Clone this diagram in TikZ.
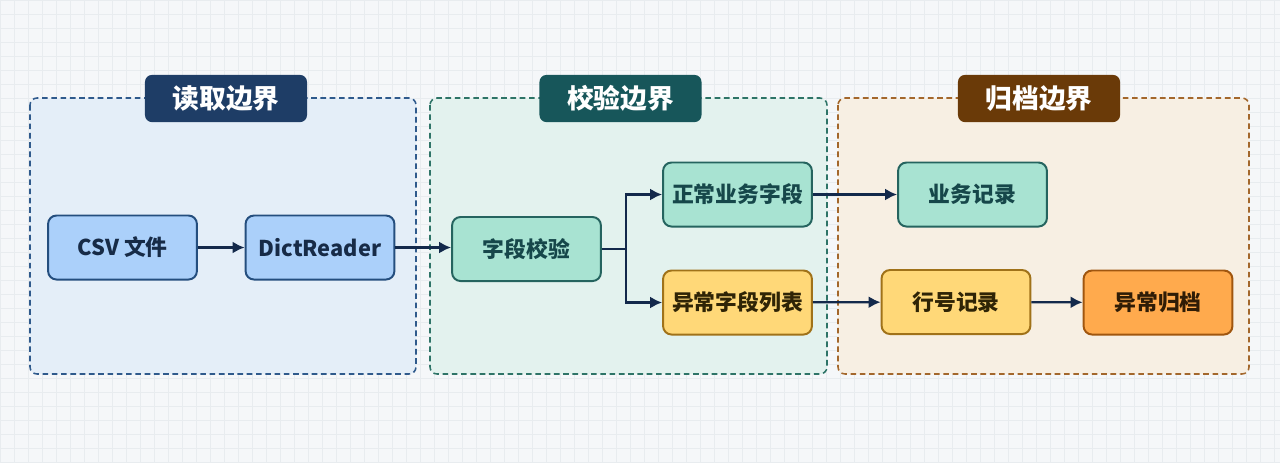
\documentclass[tikz,border=0pt]{standalone}
\usepackage{fontspec}
\newfontfamily\cjk{Noto Sans CJK SC}
\usepackage{tikz}
\usetikzlibrary{arrows.meta}
\definecolor{bgcol}{HTML}{F5F7F9}
\definecolor{gridcol}{HTML}{E8ECEF}
\definecolor{arrcol}{HTML}{13294B}
\definecolor{readfill}{HTML}{E4EEF8}
\definecolor{readline}{HTML}{2F5A8C}
\definecolor{readtitle}{HTML}{1E3D66}
\definecolor{chkfill}{HTML}{E3F2EE}
\definecolor{chkline}{HTML}{2E7467}
\definecolor{chktitle}{HTML}{17565A}
\definecolor{arcfill}{HTML}{F7EFE3}
\definecolor{arcline}{HTML}{A3672C}
\definecolor{arctitle}{HTML}{6A3A08}
\definecolor{bluebox}{HTML}{ABD0FA}
\definecolor{blueedge}{HTML}{244E7E}
\definecolor{bluetext}{HTML}{172B47}
\definecolor{tealbox}{HTML}{A8E3D2}
\definecolor{tealedge}{HTML}{25645F}
\definecolor{tealtext}{HTML}{16474A}
\definecolor{yelbox}{HTML}{FFD878}
\definecolor{yeledge}{HTML}{A07219}
\definecolor{yeltext}{HTML}{2F2406}
\definecolor{orabox}{HTML}{FFAA4D}
\definecolor{oraedge}{HTML}{A0560F}
\definecolor{oratext}{HTML}{2F1C06}

\begin{document}
\begin{tikzpicture}[x=0.025cm,y=-0.025cm,
  region/.style={line width=1.1pt,dash pattern=on 4pt off 2.6pt,rounded corners=5pt},
  title/.style={rounded corners=5pt,minimum width=4.05cm,minimum height=1.18cm,text=white,font=\cjk\bfseries\fontsize{19}{22}\selectfont},
  box/.style={rounded corners=6pt,line width=1.4pt,minimum width=3.72cm,minimum height=1.6cm,font=\cjk\bfseries\fontsize{15.5}{18}\selectfont},
  link/.style={-{Latex[length=8.5pt,width=8.5pt]},line width=1.6pt,draw=arrcol}]
\useasboundingbox (0,0) rectangle (1280,463);
\fill[bgcol] (0,0) rectangle (1280,463);
\foreach \X in {0,14,...,1280}
{\draw[gridcol,line width=0.4pt] (\X,0) -- (\X,463);}
\foreach \Y in {0,14,...,463}
{\draw[gridcol,line width=0.4pt] (0,\Y) -- (1280,\Y);}

% the three boundaries
\filldraw[region,fill=readfill,draw=readline] (30,98) rectangle (416,374);
\filldraw[region,fill=chkfill,draw=chkline] (430,98) rectangle (827,374);
\filldraw[region,fill=arcfill,draw=arcline] (838,98) rectangle (1249,374);
\node[title,fill=readtitle] (readhd) at (226,98.5) {读取边界};
\node[title,fill=chktitle] (chkhd) at (620.5,98.5) {校验边界};
\node[title,fill=arctitle] (archd) at (1039,98.5) {归档边界};

% nodes
\node[box,fill=bluebox,draw=blueedge,text=bluetext] (csv) at (122.5,247.5) {CSV 文件};
\node[box,fill=bluebox,draw=blueedge,text=bluetext] (reader) at (320,247.5) {DictReader};
\node[box,fill=tealbox,draw=tealedge,text=tealtext] (check) at (526.5,249) {字段校验};
\node[box,fill=tealbox,draw=tealedge,text=tealtext] (normal) at (737.5,194.5) {正常业务字段};
\node[box,fill=yelbox,draw=yeledge,text=yeltext] (bad) at (737.5,302.5) {异常字段列表};
\node[box,fill=tealbox,draw=tealedge,text=tealtext] (bizrec) at (972.5,194.5) {业务记录};
\node[box,fill=yelbox,draw=yeledge,text=yeltext] (linerec) at (956,302) {行号记录};
\node[box,fill=orabox,draw=oraedge,text=oratext] (badarc) at (1158,302.5) {异常归档};
\coordinate (split) at (626,249);

% connectors
\draw[link] (csv) -- (reader);
\draw[link] (reader.east) -- (reader.east -| check.west);
\draw[line width=1.6pt,draw=arrcol] (check.east) -- (split);
\draw[link] (split) |- (normal.west);
\draw[link] (split) |- (bad.west);
\draw[link] (normal) -- (bizrec);
\draw[link] (bad) -- (linerec);
\draw[link] (linerec) -- (badarc);
\end{tikzpicture}
\end{document}
